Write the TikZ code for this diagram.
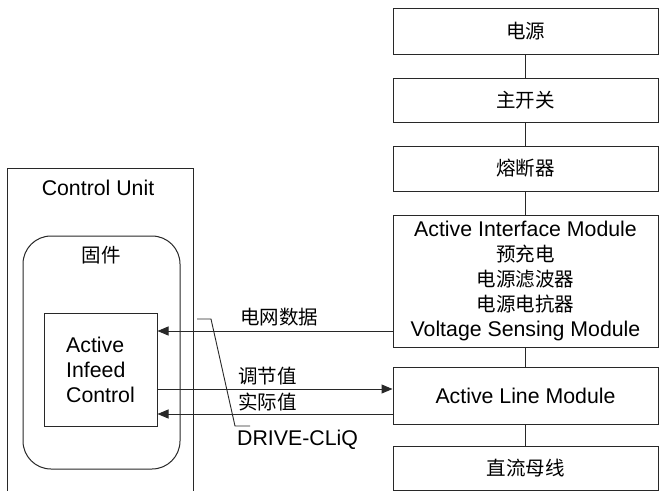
\documentclass[tikz,border=0pt]{standalone}
\usepackage{fontspec}
\setmainfont{Liberation Sans}
\newfontfamily\cjk{Noto Sans CJK SC}
\usetikzlibrary{arrows.meta}
\definecolor{linec}{RGB}{40,40,40}
\newcommand\lat{\fontsize{21.3}{25}\selectfont}
\newcommand\zh{\cjk\fontsize{19.5}{25}\selectfont}
\begin{document}
\begin{tikzpicture}[x=1pt,y=-1pt,
  line/.style={draw=linec, line width=1pt},
  chain/.style={line, minimum width=265pt, inner sep=0pt, align=center, font=\lat},
  arr/.style={line, -{Triangle[length=11pt,width=9pt]}},
  lbl/.style={inner sep=0pt, anchor=west}]
\clip (0,0) rectangle (660,490);
\fill[white] (0,0) rectangle (660,490);

% supply chain on the right
\node[chain, minimum height=46pt] (src) at (525.5,31) {\zh 电源};
\node[chain, minimum height=44pt] (sw)  at (525.5,100) {\zh 主开关};
\node[chain, minimum height=45pt] (fuse) at (525.5,168.5) {\zh 熔断器};
\node[chain, minimum height=132pt] (aim) at (525.5,281)
  {Active Interface Module\\ \zh 预充电\\ \zh 电源滤波器\\ \zh 电源电抗器\\ Voltage Sensing Module};
\node[chain, minimum height=57pt] (alm) at (525.5,395.5) {Active Line Module};
\node[chain, minimum height=44pt] (dc) at (525.5,468) {\zh 直流母线};
\draw[line] (src) -- (sw);
\draw[line] (sw) -- (fuse);
\draw[line] (fuse) -- (aim);
\draw[line] (aim) -- (alm);
\draw[line] (alm) -- (dc);

% control unit (open at the bottom edge)
\draw[line] (7,500) -- (7,168) -- (193,168) -- (193,500);
\node[inner sep=0pt, font=\lat] (cu) at (98,188) {Control Unit};
\node[line, rounded corners=28pt, minimum width=157pt, minimum height=233pt, inner sep=0pt]
  (fw) at (101.5,352.5) {};
\node[inner sep=0pt] (fwl) at (101,255) {\zh 固件};
\node[line, minimum width=113pt, minimum height=113pt, inner sep=0pt, align=left, font=\lat]
  (aic) at (100.5,369.5) {Active\\ Infeed\\ Control};

% signal connections
\coordinate (grid) at ([yshift=-50pt]aim.west);
\draw[arr] (grid) -- (grid -| aic.east);
\coordinate (setp) at ([yshift=-19.5pt]aic.east);
\draw[arr] (setp) -- (setp -| alm.west);
\coordinate (act) at ([yshift=-18.5pt]alm.west);
\draw[arr] (act) -- (act -| aic.east);
\node[lbl] (gridl) at (240,317) {\zh 电网数据};
\node[lbl] (setpl) at (238,376) {\zh 调节值};
\node[lbl] (actl) at (238,402) {\zh 实际值};
\node[lbl, font=\lat] (dcq) at (237,440) {DRIVE-CLiQ};

% DRIVE-CLiQ leader line
\coordinate (q1) at (197,319);
\coordinate (q2) at (211,319);
\coordinate (q3) at (235,426);
\coordinate (q4) at (250,426);
\draw[draw=linec, line width=0.9pt] (q1) -- (q2) -- (q3) -- (q4);
\end{tikzpicture}
\end{document}
